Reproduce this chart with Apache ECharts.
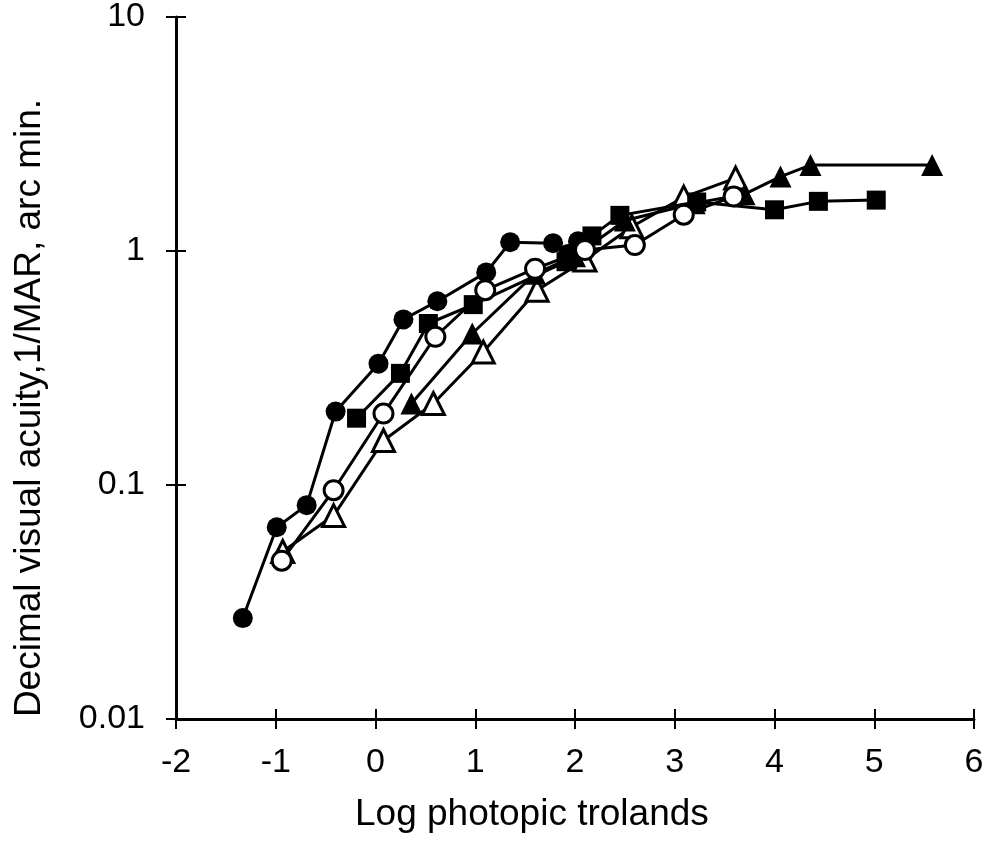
<!DOCTYPE html>
<html><head><meta charset="utf-8">
<script src="https://cdn.jsdelivr.net/npm/echarts@6/dist/echarts.min.js"></script>
<style>html,body{margin:0;padding:0;background:#fff}#c{width:990px;height:846px}</style>
</head><body><div id="c"></div>
<script>
const xTicks = [-2,-1,0,1,2,3,4,5,6];
const yTicks = [0.01,0.1,1,10];
const xTitle = 'Log photopic trolands';
const yTitle = 'Decimal visual acuity,1/MAR, arc min.';

// filled circles
const fcX = [-1.33,-0.99,-0.69,-0.40,0.03,0.28,0.62,1.11,1.35,1.78,1.93,2.03];
const fcY = [0.027,0.066,0.082,0.206,0.33,0.51,0.61,0.81,1.09,1.08,0.97,1.10];
// filled squares
const fsX = [-0.19,0.25,0.53,0.98,1.91,2.17,2.45,3.22,4.00,4.44,5.02];
const fsY = [0.193,0.30,0.49,0.59,0.90,1.16,1.42,1.62,1.50,1.63,1.65];
// filled triangles
const ftX = [0.36,0.97,1.60,2.00,2.50,3.20,3.70,4.06,4.36,5.58];
const ftY = [0.223,0.444,0.80,0.95,1.35,1.60,1.75,2.08,2.33,2.33];
// open circles
const ocX = [-0.94,-0.42,0.08,0.60,1.10,1.60,2.10,2.60,3.09,3.59];
const ocY = [0.0475,0.095,0.202,0.43,0.68,0.84,1.01,1.06,1.43,1.71];
// open triangles
const otX = [-0.93,-0.42,0.08,0.58,1.08,1.62,2.10,2.57,3.09,3.61];
const otY = [0.052,0.074,0.155,0.223,0.37,0.68,0.915,1.27,1.70,2.05];

const zip = (a,b) => a.map((v,i)=>[v,b[i]]);
function ser(name, xs, ys, symbol, size, filled, z){
  return {
    name, type:'line', data: zip(xs,ys), symbol, symbolSize:size, z,
    showAllSymbol:true,
    lineStyle:{color:'#000', width:3},
    itemStyle:{color: filled ? '#000' : '#fff', borderColor:'#000', borderWidth: filled?0:3, opacity:1},
    emphasis:{disabled:true}, animation:false
  };
}
const font = 'Liberation Sans, Arial, Helvetica, sans-serif';
const chart = echarts.init(document.getElementById('c'), null, {renderer:'canvas'});
chart.setOption({
  animation:false,
  backgroundColor:'#fff',
  grid:{left:176, right:16, top:14, bottom:127, containLabel:false},
  graphic:[{
    type:'text', left:355, top:796, z:10,
    style:{text:xTitle, font:'37px ' + font, fill:'#000'}
  },{
    type:'text', x:30, y:408, rotation:Math.PI/2, z:10,
    style:{text:yTitle, font:'37px ' + font, fill:'#000', align:'center', verticalAlign:'middle', textAlign:'center', textVerticalAlign:'middle'}
  }],
  xAxis:[{
    type:'value', min:xTicks[0], max:xTicks[xTicks.length-1], interval:1,
    axisLine:{onZero:false, lineStyle:{color:'#000', width:3}},
    axisTick:{show:true, length:10, lineStyle:{color:'#000', width:2}},
    axisLabel:{fontFamily:font, fontSize:34, color:'#000', margin:27},
    splitLine:{show:false}
  },{
    type:'value', min:xTicks[0], max:xTicks[xTicks.length-1], interval:1, position:'bottom',
    axisLine:{show:false}, axisLabel:{show:false},
    axisTick:{show:true, inside:true, length:10, lineStyle:{color:'#000', width:2}},
    splitLine:{show:false}
  }],
  yAxis:[{
    type:'log', logBase:10, min:yTicks[0], max:yTicks[yTicks.length-1],
    axisLine:{show:true, onZero:false, lineStyle:{color:'#000', width:3}},
    axisTick:{show:true, length:10, lineStyle:{color:'#000', width:2}},
    axisLabel:{fontFamily:font, fontSize:34, color:'#000', margin:31, padding:[18,0,0,0],
      formatter: v => { const t = yTicks.find(k=>Math.abs(Math.log10(k)-Math.log10(v))<1e-6); return t===undefined?'':String(t); }},
    splitLine:{show:false}, minorTick:{show:false}
  },{
    type:'log', logBase:10, min:yTicks[0], max:yTicks[yTicks.length-1], position:'left',
    axisLine:{show:false, onZero:false}, axisLabel:{show:false},
    axisTick:{show:true, inside:true, length:10, lineStyle:{color:'#000', width:2}},
    splitLine:{show:false}
  }],
  series:[
    ser('fc', fcX, fcY, 'circle', 20, true, 5),
    ser('fs', fsX, fsY, 'rect', 19, true, 4),
    ser('ft', ftX, ftY, 'triangle', 22, true, 3),
    ser('oc', ocX, ocY, 'circle', 19, false, 6),
    ser('ot', otX, otY, 'triangle', 22, false, 2)
  ]
});
</script></body></html>
